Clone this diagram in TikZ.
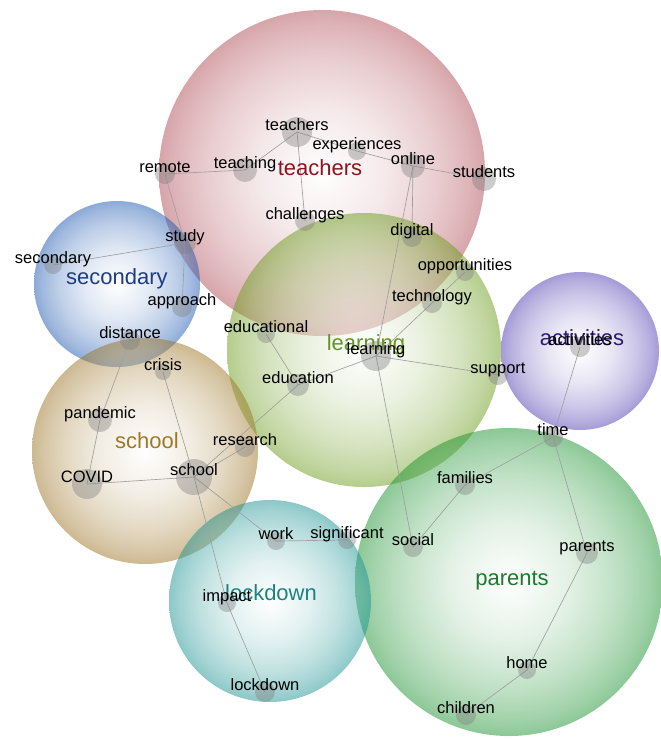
\documentclass[tikz,border=0pt]{standalone}
\usepackage{fontspec}
\setmainfont{Liberation Sans}
\usetikzlibrary{positioning}

\definecolor{c-teachers}{RGB}{175,75,85}
\definecolor{c-secondary}{RGB}{25,85,175}
\definecolor{c-school}{RGB}{155,115,35}
\definecolor{c-learning}{RGB}{105,155,25}
\definecolor{c-activities}{RGB}{75,55,175}
\definecolor{c-parents}{RGB}{25,145,45}
\definecolor{c-lockdown}{RGB}{25,145,145}

\definecolor{l-teachers}{RGB}{140,20,30}
\definecolor{l-secondary}{RGB}{30,60,130}
\definecolor{l-school}{RGB}{160,120,40}
\definecolor{l-learning}{RGB}{100,150,40}
\definecolor{l-activities}{RGB}{45,25,110}
\definecolor{l-parents}{RGB}{30,120,45}
\definecolor{l-lockdown}{RGB}{30,130,130}

\colorlet{bubout}{gray}
\pgfdeclareradialshading[bubout]{bubble}{\pgfpointorigin}{color(0bp)=(white);
    color(10bp)=(bubout!25!white); color(17.5bp)=(bubout!55!white);
    color(22.5bp)=(bubout!82!white); color(25bp)=(bubout); color(50bp)=(bubout)}

\pgfdeclarelayer{bubbles}
\pgfdeclarelayer{links}
\pgfsetlayers{bubbles,links,main}

\begin{document}
\begin{tikzpicture}[x=1pt, y=-1pt,
    cluster/.style={shading=bubble, fill opacity=.5},
    worddot/.style={circle, inner sep=0pt, fill=gray, fill opacity=.4},
    word/.style={anchor=base, inner sep=0pt, font=\fontsize{16.5}{18}\selectfont},
    theme/.style={anchor=base, inner sep=0pt, font=\fontsize{22}{24}\selectfont},
    wordlink/.style={gray!75, line width=.65pt}]
    \useasboundingbox (0,0) rectangle (661,740);

    \begin{pgfonlayer}{bubbles}
        \foreach \c/\x/\y/\r in {teachers/322/173/163, secondary/117/284/83,
                learning/364/350/137, school/145/451/113, activities/580/351/79,
                parents/509/582/154, lockdown/270/601/101}
        {
            \colorlet{bubout}{c-\c}
            \shade[cluster] (\x,\y) circle [radius=\r];
        }
    \end{pgfonlayer}

    \foreach \c/\x/\y in {teachers/320/175, secondary/117/284, school/147/448,
            learning/366/350, activities/582/345, parents/512/585, lockdown/271/600}
        \node[theme, text=l-\c] (t-\c) at (\x,\y) {\c};

    \foreach \n/\x/\y/\r in {
            teachers/297/132/15, experiences/357/151/9, online/413/166/12,
            students/484/179/12, remote/165/174/10, teaching/245/170/12,
            challenges/305/221/10, digital/412/237/10, opportunities/465/272/9,
            technology/432/303/10, study/185/243/11, secondary/53/265/9,
            approach/182/307/10, distance/130/340/10, crisis/163/372/8,
            pandemic/100/420/12, research/245/447/10, school/194/477/18,
            COVID/87/484/15, educational/266/334/9, education/298/385/11,
            learning/376/356/15, support/498/375/10, activities/580/347/10,
            time/553/437/10, families/465/485/10, work/276/541/9,
            significant/347/540/9, social/413/547/10, parents/587/553/11,
            impact/227/603/9, lockdown/265/692/10, home/527/670/9,
            children/466/715/10}
    {
        \node[worddot, minimum size=2*\r] (\n) at (\x,\y) {};
        \node[word] at ([yshift=2pt]\n.center) {\n};
    }

    \begin{pgfonlayer}{links}
        \path[wordlink]
            (remote.center) edge (teaching.center)
            (teaching.center) edge (teachers.center)
            (teachers.center) edge (experiences.center)
            (experiences.center) edge (online.center)
            (online.center) edge (students.center)
            (teachers.center) edge (challenges.center)
            (remote.center) edge (study.center)
            (study.center) edge (secondary.center)
            (study.center) edge (approach.center)
            (online.center) edge (digital.center)
            (online.center) edge (learning.center)
            (opportunities.center) edge (technology.center)
            (technology.center) edge (learning.center)
            (learning.center) edge (support.center)
            (learning.center) edge (education.center)
            (educational.center) edge (education.center)
            (education.center) edge (school.center)
            (research.center) edge (school.center)
            (learning.center) edge (social.center)
            (distance.center) edge (pandemic.center)
            (pandemic.center) edge (COVID.center)
            (COVID.center) edge (school.center)
            (crisis.center) edge (school.center)
            (school.center) edge (impact.center)
            (impact.center) edge (lockdown.center)
            (school.center) edge (work.center)
            (work.center) edge (significant.center)
            (social.center) edge (families.center)
            (families.center) edge (time.center)
            (time.center) edge (activities.center)
            (time.center) edge (parents.center)
            (parents.center) edge (home.center)
            (home.center) edge (children.center);
    \end{pgfonlayer}
\end{tikzpicture}
\end{document}
